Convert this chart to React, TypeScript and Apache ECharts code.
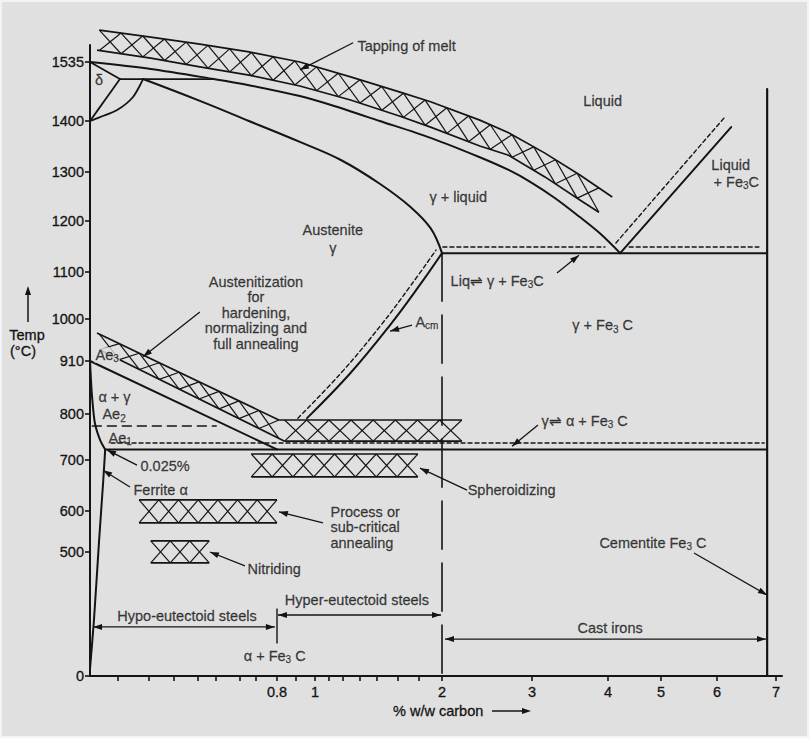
import React, { useEffect, useRef } from 'react';
import * as echarts from 'echarts';

const FONT = '"Liberation Sans", Arial, Helvetica, sans-serif';
const INK = '#141414';
const BG = '#e0e0e0';
const FS = 14.5;

// ---- axis scales (piecewise: value -> position in axis units) ----
const xScaleValues = [0, 0.8, 1, 2, 3, 4, 5, 6, 7];
const xScalePos = [0, 187, 225, 352, 442, 518, 571, 627, 686];
const X_MAX = 692;
const yScaleValues = [0, 500, 600, 700, 800, 910, 1000, 1100, 1200, 1300, 1400, 1535];
const yScalePos = [0, 124, 165, 216, 262, 315, 357, 404, 455, 504, 555, 614];
const Y_MAX = 631;

// ---- ticks ----
const xTickValues = [0.8, 1, 2, 3, 4, 5, 6, 7];
const xTickLabels = ['0.8', '1', '2', '3', '4', '5', '6', '7'];
const xMinorTicks = [0.12, 0.25, 0.36, 0.46, 0.54, 0.64, 0.71, 0.9, 1.11, 1.22, 1.35, 1.49, 1.65, 1.82];
const yTickValues = [0, 500, 600, 700, 800, 910, 1000, 1100, 1200, 1300, 1400, 1535];
const yTickLabels = ['0', '500', '600', '700', '800', '910', '1000', '1100', '1200', '1300', '1400', '1535'];

// ---- phase boundaries [%C, °C] ----
const liquidus = [[0, 1535], [0.26, 1519], [0.53, 1496], [0.68, 1482], [0.92, 1457], [1.12, 1437], [1.51, 1400], [1.91, 1367], [2.42, 1329], [2.74, 1304], [2.98, 1280], [3.3, 1247], [3.63, 1208], [3.9, 1175], [4.23, 1137]];
const solidus = [[0.227, 1496], [0.47, 1446], [0.68, 1400], [0.92, 1359], [1.2, 1324], [1.51, 1276], [1.75, 1229], [1.91, 1186], [2, 1137]];
const deltaSolidus = [[0, 1535], [0.128, 1496]];
const deltaGammaLeft = [[0.128, 1496], [0.064, 1448], [0, 1400]];
const deltaGammaRight = [[0, 1400], [0.043, 1409], [0.116, 1425], [0.184, 1455], [0.227, 1496]];
const peritectic = [[0.128, 1496], [0.53, 1496]];
const eutectic = [[2, 1137], [6.85, 1137]];
const eutecticStableA = [[2.01, 1149], [3.96, 1149]];
const eutecticStableB = [[4.4, 1149], [6.71, 1149]];
const liquidusHyper = [[4.23, 1137], [6.24, 1388]];
const liquidusHyperStable = [[4.15, 1157], [6.12, 1407]];
const cementite = [[6.85, 1473], [6.85, 0]];
const steelLimit = [[2, 1137], [2, 0]];
const eutectoid = [[0.065, 723], [6.85, 723]];
const eutectoidStable = [[0.09, 737], [6.8, 737]];
const ae2 = [[0.01, 774], [0.54, 774]];
const ae3 = [[0, 910], [0.8, 723]];
const alphaBoundary = [[0, 910], [0.004, 871], [0.009, 835], [0.021, 780], [0.043, 744], [0.065, 723]];
const ferriteSolvus = [[0.065, 723], [0.056, 655], [0.039, 529], [0.017, 226], [0, 30]];
const acm = [[0.958, 791], [1.276, 884], [1.591, 987], [1.827, 1073], [2, 1137]];
const acmStable = [[0.91, 791], [1.205, 885], [1.52, 987], [1.756, 1072], [1.953, 1143]];
const eutectoidMark = [[0.8, 270], [0.8, 133]];

// ---- heat-treatment bands ----
const tappingTop = [[0.04, 1608], [0.26, 1592], [0.47, 1576], [0.68, 1558], [0.92, 1535], [1.28, 1501], [1.67, 1466], [1.91, 1444], [2.42, 1402], [2.74, 1377], [3.17, 1337], [3.63, 1294], [4.08, 1249]];
const tappingBottom = [[0.03, 1562], [0.26, 1544], [0.47, 1524], [0.68, 1505], [0.92, 1480], [1.28, 1448], [1.67, 1411], [1.91, 1388], [2.42, 1351], [2.74, 1333], [3.17, 1290], [3.63, 1243], [3.88, 1218]];
const austSlopeTop = [[0.03, 970], [0.81, 787]];
const austSlopeBottom = [[0.04, 934], [0.84, 741]];
const austFlatTop = [[0.81, 787], [2.22, 787]];
const austFlatBottom = [[0.84, 741], [2.22, 741]];
const spheroTop = [[0.69, 713], [1.81, 713]];
const spheroBottom = [[0.69, 667], [1.81, 667]];
const processTop = [[0.21, 622], [0.8, 622]];
const processBottom = [[0.21, 571], [0.8, 571]];
const nitridingTop = [[0.26, 527], [0.51, 527]];
const nitridingBottom = [[0.26, 456], [0.51, 456]];

// ---- annotations ----
const labelTexts = [
  'Tapping of melt', 'Liquid', 'Liquid', '+ Fe{s|3}C', 'γ + liquid', 'Austenite', 'γ',
  'Liq⇌ γ + Fe{s|3}C', 'γ + Fe{s|3} C', 'γ⇌ α + Fe{s|3} C', 'Cementite Fe{s|3} C', 'Cast irons',
  'Hyper-eutectoid steels', 'Hypo-eutectoid steels', 'α + Fe{s|3} C', 'Spheroidizing',
  'Process or\nsub-critical\nannealing', 'Nitriding',
  'Austenitization\nfor\nhardening,\nnormalizing and\nfull annealing',
  'A{s|cm}', '0.025%', 'Ferrite α', 'α + γ', 'Ae{s|2}', 'Ae{s|1}', 'Ae{s|3}', 'δ',
];
const labelAt = [
  [1.33, 1572], [3.93, 1446], [5.89, 1314], [5.93, 1280], [2.18, 1249], [1.14, 1182], [1.14, 1147],
  [2.09, 1081], [3.93, 987], [3.12, 785], [3.88, 522], [4.04, 194],
  [1.33, 306], [0.415, 242], [0.79, 81], [2.28, 641],
  [1.118, 560], [0.672, 432],
  [0.71, 1013],
  [1.787, 994], [0.214, 688], [0.184, 641], [0.034, 835], [0.051, 800], [0.077, 748], [0.017, 923], [0.0385, 1494],
];
const labelAlign = [
  'left', 'center', 'left', 'left', 'center', 'center', 'center',
  'left', 'center', 'left', 'left', 'center',
  'center', 'center', 'center', 'left',
  'left', 'left',
  'center',
  'left', 'left', 'left', 'left', 'left', 'left', 'left', 'center',
];
const labelKnockout = [
  false, false, false, false, false, false, false,
  false, false, false, false, false,
  false, false, false, false,
  false, false,
  false,
  false, false, false, false, false, false, true, false,
];

const arrowFrom = [[1.3, 1579], [0.47, 1015], [1.764, 987], [3.329, 1098], [3.079, 776], [0.201, 690], [0.171, 647], [2.278, 641], [1.063, 571], [0.663, 444], [5.589, 496], [0.013, 198], [0.805, 246], [2.033, 149]];
const arrowTo = [[0.921, 1517], [0.227, 919], [1.591, 974], [3.618, 1133], [2.778, 730], [0.073, 722], [0.056, 680], [1.827, 684], [0.81, 598], [0.513, 500], [6.847, 327], [0.791, 198], [1.992, 246], [6.83, 149]];
const arrowBoth = [false, false, false, false, false, false, false, false, false, false, false, true, true, true];

// ---- helpers ----
const interp = (v: number, vals: number[], pos: number[]) => {
  const n = vals.length;
  let i = 0;
  if (v >= vals[n - 1]) i = n - 2;
  else if (v > vals[0]) { while (i < n - 2 && v > vals[i + 1]) i++; }
  const t = (v - vals[i]) / (vals[i + 1] - vals[i]);
  return pos[i] + t * (pos[i + 1] - pos[i]);
};
const tx = (c: number) => interp(c, xScaleValues, xScalePos);
const ty = (t: number) => interp(t, yScaleValues, yScalePos);
const pt = (p: number[]) => [tx(p[0]), ty(p[1])];

const nearestLabel = (v: number, vals: number[], labels: string[], f: (n: number) => number) => {
  for (let i = 0; i < vals.length; i++) if (Math.abs(f(vals[i]) - v) < 0.5) return labels[i];
  return '';
};

const lineS = (data: number[][], opt: any = {}) => ({
  type: 'line',
  data: data.map(pt),
  symbol: 'none',
  smooth: opt.smooth || 0,
  clip: false,
  silent: true,
  z: 3,
  lineStyle: { color: INK, width: opt.width || 2, type: opt.dash || 'solid', cap: 'round' },
});

const bands = [
  { top: tappingTop, bottom: tappingBottom, cell: 22 },
  { top: austSlopeTop, bottom: austSlopeBottom, cell: 20 },
  { top: austFlatTop, bottom: austFlatBottom, cell: 22 },
  { top: spheroTop, bottom: spheroBottom, cell: 21 },
  { top: processTop, bottom: processBottom, cell: 21 },
  { top: nitridingTop, bottom: nitridingBottom, cell: 20 },
];

const yAt = (poly: number[][], x: number) => {
  if (x <= poly[0][0]) return poly[0][1];
  for (let i = 0; i < poly.length - 1; i++) {
    const [x0, y0] = poly[i];
    const [x1, y1] = poly[i + 1];
    if (x <= x1) return y0 + ((y1 - y0) * (x - x0)) / (x1 - x0 || 1);
  }
  return poly[poly.length - 1][1];
};

const renderBand = (params: any, api: any) => {
  const b = bands[params.dataIndex];
  const top = b.top.map((p) => api.coord(pt(p)));
  const bot = b.bottom.map((p) => api.coord(pt(p)));
  const xa = Math.max(top[0][0], bot[0][0]);
  const xb = Math.min(top[top.length - 1][0], bot[bot.length - 1][0]);
  const n = Math.max(1, Math.round((xb - xa) / b.cell));
  const w = (xb - xa) / n;
  const hatch = { stroke: INK, lineWidth: 1.2 };
  const children: any[] = [];
  for (let k = 0; k < n; k++) {
    const x0 = xa + k * w;
    const x1 = x0 + w;
    children.push({ type: 'line', shape: { x1: x0, y1: yAt(top, x0), x2: x1, y2: yAt(bot, x1) }, style: hatch });
    children.push({ type: 'line', shape: { x1: x0, y1: yAt(bot, x0), x2: x1, y2: yAt(top, x1) }, style: hatch });
  }
  children.push({ type: 'polyline', shape: { points: top }, style: { stroke: INK, lineWidth: 1.7, fill: 'none' } });
  children.push({ type: 'polyline', shape: { points: bot }, style: { stroke: INK, lineWidth: 1.7, fill: 'none' } });
  return { type: 'group', children };
};

const headPoints = (tip: number[], from: number[], len: number, half: number) => {
  const dx = tip[0] - from[0];
  const dy = tip[1] - from[1];
  const d = Math.hypot(dx, dy) || 1;
  const ux = dx / d;
  const uy = dy / d;
  const bx = tip[0] - ux * len;
  const by = tip[1] - uy * len;
  return [tip, [bx - uy * half, by + ux * half], [bx + uy * half, by - ux * half]];
};

const renderArrow = (params: any, api: any) => {
  const i = params.dataIndex;
  const a = api.coord(pt(arrowFrom[i]));
  const b = api.coord(pt(arrowTo[i]));
  const children: any[] = [
    { type: 'line', shape: { x1: a[0], y1: a[1], x2: b[0], y2: b[1] }, style: { stroke: INK, lineWidth: 1.3 } },
    { type: 'polygon', shape: { points: headPoints(b, a, 9, 3) }, style: { fill: INK } },
  ];
  if (arrowBoth[i]) children.push({ type: 'polygon', shape: { points: headPoints(a, b, 9, 3) }, style: { fill: INK } });
  return { type: 'group', children };
};

const rich = {
  s: { fontSize: 10, fontFamily: FONT, color: INK, padding: [8, 0, 0, 0], textBorderColor: INK, textBorderWidth: 0.25 },
};

const buildOption = () => ({
  animation: false,
  textStyle: { fontFamily: FONT },
  grid: { left: 90, top: 45, width: X_MAX, height: Y_MAX, containLabel: false, outerBoundsMode: 'none' },
  xAxis: {
    type: 'value', min: 0, max: X_MAX, position: 'bottom',
    axisLine: { show: true, onZero: false, lineStyle: { color: INK, width: 2 } },
    axisTick: { show: true, length: 5, customValues: [...xTickValues, ...xMinorTicks].map(tx), lineStyle: { color: INK, width: 1.6 } },
    axisLabel: {
      show: true, customValues: xTickValues.map(tx), color: INK, fontSize: FS, fontFamily: FONT, margin: 8,
      textBorderColor: INK, textBorderWidth: 0.3,
      formatter: (v: number) => nearestLabel(v, xTickValues, xTickLabels, tx),
    },
    splitLine: { show: false },
  },
  yAxis: {
    type: 'value', min: 0, max: Y_MAX,
    axisLine: { show: true, lineStyle: { color: INK, width: 2 } },
    axisTick: { show: true, length: 5, customValues: yTickValues.map(ty), lineStyle: { color: INK, width: 1.6 } },
    axisLabel: {
      show: true, customValues: yTickValues.map(ty), color: INK, fontSize: FS, fontFamily: FONT, margin: 6,
      textBorderColor: INK, textBorderWidth: 0.3,
      formatter: (v: number) => nearestLabel(v, yTickValues, yTickLabels, ty),
    },
    splitLine: { show: false },
  },
  series: [
    lineS(liquidus, { smooth: 0.3 }),
    lineS(solidus, { smooth: 0.4 }),
    lineS(deltaSolidus, { width: 1.8 }),
    lineS(deltaGammaLeft, { width: 1.8, smooth: 0.3 }),
    lineS(deltaGammaRight, { width: 1.8, smooth: 0.3 }),
    lineS(peritectic, { width: 1.8 }),
    lineS(eutectic),
    lineS(eutecticStableA, { width: 1.4, dash: [4, 3] }),
    lineS(eutecticStableB, { width: 1.4, dash: [4, 3] }),
    lineS(liquidusHyper),
    lineS(liquidusHyperStable, { width: 1.4, dash: [4, 3] }),
    lineS(cementite, { width: 2.2 }),
    lineS(steelLimit, { width: 1.6, dash: [48, 14] }),
    lineS(eutectoid),
    lineS(eutectoidStable, { width: 1.4, dash: [4, 3] }),
    lineS(ae2, { width: 1.5, dash: [9, 6] }),
    lineS(ae3),
    lineS(alphaBoundary, { smooth: 0.3 }),
    lineS(ferriteSolvus, { smooth: 0.2 }),
    lineS(acm, { smooth: 0.4 }),
    lineS(acmStable, { width: 1.4, dash: [4, 3], smooth: 0.4 }),
    lineS(eutectoidMark, { width: 1.4 }),
    {
      type: 'custom',
      coordinateSystem: 'cartesian2d',
      renderItem: renderBand,
      data: bands.map((b) => pt(b.top[0])),
      clip: false,
      silent: true,
      z: 4,
    },
    {
      type: 'custom',
      coordinateSystem: 'cartesian2d',
      renderItem: renderArrow,
      data: arrowFrom.map(pt),
      clip: false,
      silent: true,
      z: 5,
    },
    {
      type: 'scatter',
      symbolSize: 1,
      silent: true,
      clip: false,
      z: 10,
      itemStyle: { color: 'rgba(0,0,0,0)' },
      label: {
        show: true, color: INK, fontSize: FS, fontFamily: FONT, lineHeight: 15.6, rich,
        textBorderColor: INK, textBorderWidth: 0.3,
      },
      emphasis: { disabled: true },
      data: labelTexts.map((t, i) => ({
        value: pt(labelAt[i]),
        label: {
          formatter: t,
          position: labelAlign[i] === 'left' ? 'right' : 'inside',
          distance: 0,
          ...(labelKnockout[i] ? { backgroundColor: BG, padding: [0, 1, 0, 1] } : {}),
        },
      })),
    },
  ],
  graphic: [
    { type: 'text', x: 27, y: 335, style: { text: 'Temp', font: `${FS}px ${FONT}`, fill: INK, stroke: INK, lineWidth: 0.3, textAlign: 'center', textVerticalAlign: 'middle', align: 'center', verticalAlign: 'middle' } },
    { type: 'text', x: 23, y: 351, style: { text: '(°C)', font: `${FS}px ${FONT}`, fill: INK, stroke: INK, lineWidth: 0.3, textAlign: 'center', textVerticalAlign: 'middle', align: 'center', verticalAlign: 'middle' } },
    { type: 'line', shape: { x1: 28, y1: 322, x2: 28, y2: 293 }, style: { stroke: INK, lineWidth: 1.5 } },
    { type: 'polygon', shape: { points: [[28, 286], [25, 295], [31, 295]] }, style: { fill: INK } },
    { type: 'text', x: 393, y: 711, style: { text: '% w/w carbon', font: `${FS}px ${FONT}`, fill: INK, stroke: INK, lineWidth: 0.3, textAlign: 'left', textVerticalAlign: 'middle', align: 'left', verticalAlign: 'middle' } },
    { type: 'line', shape: { x1: 492, y1: 711, x2: 524, y2: 711 }, style: { stroke: INK, lineWidth: 1.5 } },
    { type: 'polygon', shape: { points: [[531, 711], [522, 708], [522, 714]] }, style: { fill: INK } },
  ],
});

export default function App() {
  const ref = useRef<HTMLDivElement>(null);
  useEffect(() => {
    const chart = echarts.init(ref.current as HTMLDivElement, null, { renderer: 'svg' });
    chart.setOption(buildOption() as any);
    return () => chart.dispose();
  }, []);
  return (
    <div
      ref={ref}
      style={{
        position: 'absolute',
        left: 0,
        top: 0,
        width: 809,
        height: 738,
        background: BG,
        boxShadow: 'inset 0 0 0 2px #f3f3f3',
      }}
    />
  );
}
